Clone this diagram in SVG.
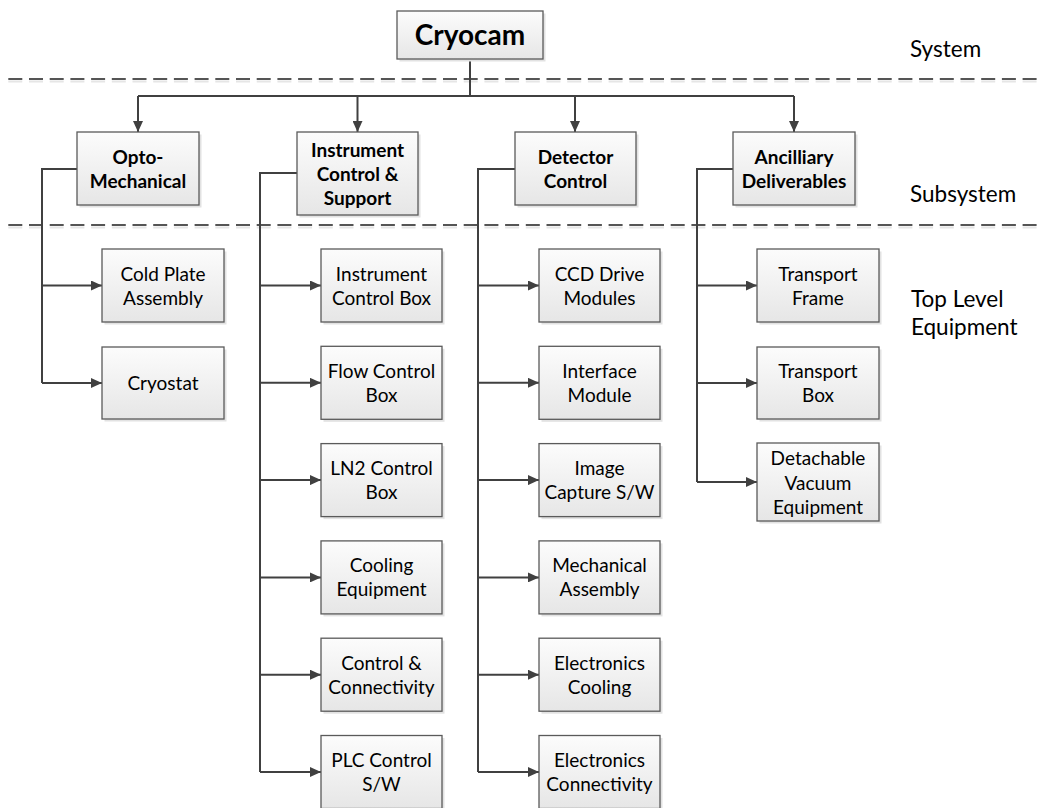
<svg xmlns="http://www.w3.org/2000/svg" width="1041" height="808" viewBox="0 0 1041 808">
<defs>
<linearGradient id="g" x1="0" y1="0" x2="0" y2="1">
<stop offset="0" stop-color="#fcfcfc"/>
<stop offset="1" stop-color="#e6e6e6"/>
</linearGradient>
<marker id="ah" markerWidth="12" markerHeight="10" refX="11" refY="5" orient="auto" markerUnits="userSpaceOnUse">
<path d="M0,0 L11,5 L0,10 z" fill="#404040"/>
</marker>
</defs>
<style>
.box{fill:url(#g);stroke:#5a5a5a;stroke-width:1.3}
.sh{fill:#e2e2e2}
.t{font-family:Lato,"Liberation Sans",sans-serif;font-size:19px;fill:#000;text-anchor:middle}
.b{font-family:Lato,"Liberation Sans",sans-serif;font-size:19px;font-weight:bold;fill:#000;text-anchor:middle}
.lab{font-family:Lato,"Liberation Sans",sans-serif;font-size:22.5px;fill:#000}
.c{fill:none;stroke:#404040;stroke-width:2}
.a{marker-end:url(#ah)}
.dash{stroke:#555;stroke-width:2;stroke-dasharray:14 6.7}
.dsh{stroke:#e6e6e6;stroke-width:2;stroke-dasharray:14 6.7}
</style>
<rect width="1041" height="808" fill="#fff"/>
<g id="levels">
<line class="dsh" x1="8.3" y1="81.5" x2="1041" y2="81.5"/>
<line class="dash" x1="8.3" y1="79" x2="1041" y2="79"/>
<line class="dsh" x1="8.3" y1="227.5" x2="1041" y2="227.5"/>
<line class="dash" x1="8.3" y1="225" x2="1041" y2="225"/>
<text class="lab" x="910" y="57">System</text>
<text class="lab" x="910" y="202">Subsystem</text>
<text class="lab" x="911" y="307">Top Level</text>
<text class="lab" x="911" y="335">Equipment</text>
</g>
<g id="connectors">
<path class="c" d="M470,59 V96 M138,96 H794"/>
<path class="c a" d="M138,96 V132"/>
<path class="c a" d="M357.5,96 V132"/>
<path class="c a" d="M575,96 V132"/>
<path class="c a" d="M794,96 V132"/>
<path class="c" d="M77,169 H42 V383"/>
<path class="c a" d="M42,285.5 H102"/>
<path class="c a" d="M42,383 H102"/>
<path class="c" d="M297,173 H260 V772"/>
<path class="c a" d="M260,285.5 H321"/>
<path class="c a" d="M260,382.8 H321"/>
<path class="c a" d="M260,480.1 H321"/>
<path class="c a" d="M260,577.4 H321"/>
<path class="c a" d="M260,674.7 H321"/>
<path class="c a" d="M260,772 H321"/>
<path class="c" d="M515,169 H478 V772"/>
<path class="c a" d="M478,285.5 H539"/>
<path class="c a" d="M478,382.8 H539"/>
<path class="c a" d="M478,480.1 H539"/>
<path class="c a" d="M478,577.4 H539"/>
<path class="c a" d="M478,674.7 H539"/>
<path class="c a" d="M478,772 H539"/>
<path class="c" d="M733,169 H697 V482"/>
<path class="c a" d="M697,285.5 H757"/>
<path class="c a" d="M697,383 H757"/>
<path class="c a" d="M697,482 H757"/>
</g>
<g id="cryocam">
<rect class="sh" x="399.5" y="13.5" width="146" height="48"/>
<rect class="box" x="397" y="11" width="146" height="48"/>
<text class="b" x="470" y="45" style="font-size:28px">Cryocam</text>
</g>
<g id="opto">
<rect class="sh" x="79.5" y="134.5" width="122" height="73"/>
<rect class="box" x="77" y="132" width="122" height="73"/>
<text class="b" x="138" y="163.5">Opto-</text>
<text class="b" x="138" y="187.5">Mechanical</text>
</g>
<g id="instrument">
<rect class="sh" x="299.5" y="134.5" width="121" height="83"/>
<rect class="box" x="297" y="132" width="121" height="83"/>
<text class="b" x="357.5" y="156.5">Instrument</text>
<text class="b" x="357.5" y="180.5">Control &amp;</text>
<text class="b" x="357.5" y="204.5">Support</text>
</g>
<g id="detector">
<rect class="sh" x="517.5" y="134.5" width="121" height="73"/>
<rect class="box" x="515" y="132" width="121" height="73"/>
<text class="b" x="575.5" y="163.5">Detector</text>
<text class="b" x="575.5" y="187.5">Control</text>
</g>
<g id="ancilliary">
<rect class="sh" x="735.5" y="134.5" width="122" height="73"/>
<rect class="box" x="733" y="132" width="122" height="73"/>
<text class="b" x="794" y="163.5">Ancilliary</text>
<text class="b" x="794" y="187.5">Deliverables</text>
</g>
<g id="coldplate">
<rect class="sh" x="104.5" y="251.5" width="122" height="73"/>
<rect class="box" x="102" y="249" width="122" height="73"/>
<text class="t" x="163" y="280.5">Cold Plate</text>
<text class="t" x="163" y="304.5">Assembly</text>
</g>
<g id="cryostat">
<rect class="sh" x="104.5" y="349.5" width="122" height="72"/>
<rect class="box" x="102" y="347" width="122" height="72"/>
<text class="t" x="163" y="390">Cryostat</text>
</g>
<g id="icbox">
<rect class="sh" x="323.5" y="251.5" width="121" height="73"/>
<rect class="box" x="321" y="249" width="121" height="73"/>
<text class="t" x="381.5" y="280.5">Instrument</text>
<text class="t" x="381.5" y="304.5">Control Box</text>
</g>
<g id="flowbox">
<rect class="sh" x="323.5" y="348.8" width="121" height="73"/>
<rect class="box" x="321" y="346.3" width="121" height="73"/>
<text class="t" x="381.5" y="377.8">Flow Control</text>
<text class="t" x="381.5" y="401.8">Box</text>
</g>
<g id="ln2box">
<rect class="sh" x="323.5" y="446.1" width="121" height="73"/>
<rect class="box" x="321" y="443.6" width="121" height="73"/>
<text class="t" x="381.5" y="475.1">LN2 Control</text>
<text class="t" x="381.5" y="499.1">Box</text>
</g>
<g id="cooling">
<rect class="sh" x="323.5" y="543.4" width="121" height="73"/>
<rect class="box" x="321" y="540.9" width="121" height="73"/>
<text class="t" x="381.5" y="572.4">Cooling</text>
<text class="t" x="381.5" y="596.4">Equipment</text>
</g>
<g id="controlconn">
<rect class="sh" x="323.5" y="640.7" width="121" height="73"/>
<rect class="box" x="321" y="638.2" width="121" height="73"/>
<text class="t" x="381.5" y="669.7">Control &amp;</text>
<text class="t" x="381.5" y="693.7">Connectivity</text>
</g>
<g id="plc">
<rect class="sh" x="323.5" y="738" width="121" height="73"/>
<rect class="box" x="321" y="735.5" width="121" height="73"/>
<text class="t" x="381.5" y="767">PLC Control</text>
<text class="t" x="381.5" y="791">S/W</text>
</g>
<g id="ccd">
<rect class="sh" x="541.5" y="251.5" width="121" height="73"/>
<rect class="box" x="539" y="249" width="121" height="73"/>
<text class="t" x="599.5" y="280.5">CCD Drive</text>
<text class="t" x="599.5" y="304.5">Modules</text>
</g>
<g id="interface">
<rect class="sh" x="541.5" y="348.8" width="121" height="73"/>
<rect class="box" x="539" y="346.3" width="121" height="73"/>
<text class="t" x="599.5" y="377.8">Interface</text>
<text class="t" x="599.5" y="401.8">Module</text>
</g>
<g id="imagecap">
<rect class="sh" x="541.5" y="446.1" width="121" height="73"/>
<rect class="box" x="539" y="443.6" width="121" height="73"/>
<text class="t" x="599.5" y="475.1">Image</text>
<text class="t" x="599.5" y="499.1">Capture S/W</text>
</g>
<g id="mechassy">
<rect class="sh" x="541.5" y="543.4" width="121" height="73"/>
<rect class="box" x="539" y="540.9" width="121" height="73"/>
<text class="t" x="599.5" y="572.4">Mechanical</text>
<text class="t" x="599.5" y="596.4">Assembly</text>
</g>
<g id="elcooling">
<rect class="sh" x="541.5" y="640.7" width="121" height="73"/>
<rect class="box" x="539" y="638.2" width="121" height="73"/>
<text class="t" x="599.5" y="669.7">Electronics</text>
<text class="t" x="599.5" y="693.7">Cooling</text>
</g>
<g id="elconn">
<rect class="sh" x="541.5" y="738" width="121" height="73"/>
<rect class="box" x="539" y="735.5" width="121" height="73"/>
<text class="t" x="599.5" y="767">Electronics</text>
<text class="t" x="599.5" y="791">Connectivity</text>
</g>
<g id="tframe">
<rect class="sh" x="759.5" y="251.5" width="122" height="73"/>
<rect class="box" x="757" y="249" width="122" height="73"/>
<text class="t" x="818" y="280.5">Transport</text>
<text class="t" x="818" y="304.5">Frame</text>
</g>
<g id="tbox">
<rect class="sh" x="759.5" y="349.5" width="122" height="72"/>
<rect class="box" x="757" y="347" width="122" height="72"/>
<text class="t" x="818" y="378">Transport</text>
<text class="t" x="818" y="402">Box</text>
</g>
<g id="detachable">
<rect class="sh" x="759.5" y="445.5" width="122" height="78"/>
<rect class="box" x="757" y="443" width="122" height="78"/>
<text class="t" x="818" y="465">Detachable</text>
<text class="t" x="818" y="489.5">Vacuum</text>
<text class="t" x="818" y="514">Equipment</text>
</g>
</svg>
